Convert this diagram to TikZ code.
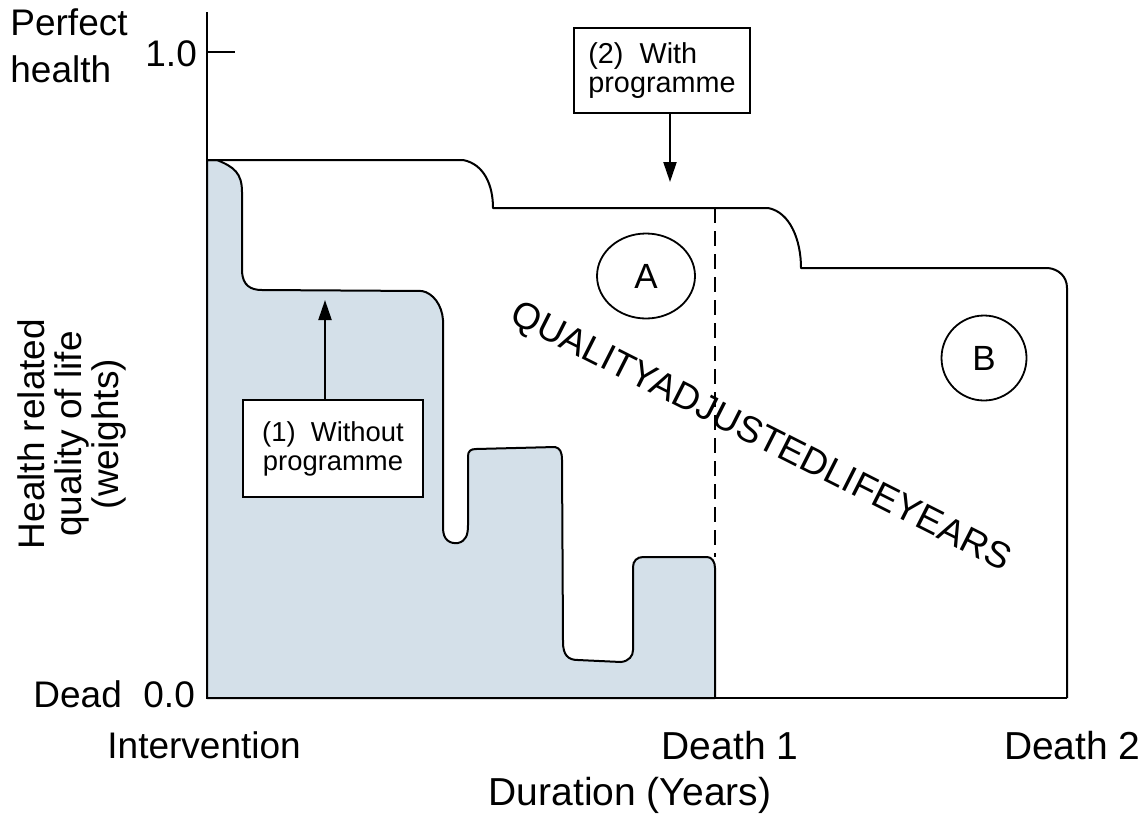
\documentclass[tikz,border=0pt]{standalone}
\usepackage{fontspec}
\setmainfont{Liberation Sans}
\usetikzlibrary{arrows.meta,shapes.geometric}
\definecolor{shade}{RGB}{212,224,233}
\tikzset{
  lbl/.style={inner sep=0pt, font=\fontsize{18.5}{21}\selectfont},
  biglbl/.style={inner sep=0pt, font=\fontsize{19.5}{22}\selectfont},
  boxtxt/.style={draw, line width=1pt, fill=white, inner sep=0pt, font=\fontsize{13.7}{14.5}\selectfont},
  circ/.style={draw, line width=0.9pt, inner sep=0pt, font=\fontsize{17.5}{20}\selectfont},
  curve/.style={line width=1pt, line join=round},
  arr/.style={line width=1.1pt, -{Triangle[length=10pt,width=6.5pt]}}
}
\begin{document}
\begin{tikzpicture}[x=0.5pt, y=-0.5pt]
\useasboundingbox (0,0) rectangle (1144,820);
% shaded area: without programme
\path[fill=shade, draw=black, curve]
  (207,698) -- (207,160) -- (217,160)
  .. controls (234,167) and (242,173) .. (242,192)
  -- (242,272) .. controls (243,285) and (250,290) .. (262,290)
  -- (422,291) .. controls (433,293) and (442,305) .. (443,320)
  -- (443,528) .. controls (443,540) and (450,544) .. (458,543)
  .. controls (466,541) and (468,535) .. (468,525)
  -- (468,456) .. controls (468,451) and (471,449) .. (476,449)
  -- (555,447) .. controls (560,448) and (562,452) .. (562,460)
  -- (563,642) .. controls (563,655) and (568,660) .. (578,660)
  -- (621,662) .. controls (629,661) and (633,656) .. (633,650)
  -- (633,567) .. controls (633,561) and (637,557) .. (643,557)
  -- (707,557) .. controls (712,557) and (715,562) .. (715,568)
  -- (715,698) -- cycle;
% with programme curve
\coordinate (w0) at (207,160);
\coordinate (wend) at (1067,698);
\draw[curve] (w0) -- (463,160) .. controls (484,164) and (493,185) .. (493,208)
  -- (768,208) .. controls (790,212) and (801,240) .. (801,268)
  -- (1048,268) .. controls (1058,269) and (1067,276) .. (1067,288) -- (wend);
% axes
\coordinate (ytop) at (207,12);
\coordinate (orig) at (207,698);
\coordinate (tick) at (235,52);
\draw[line width=1pt] (ytop) -- (orig) -- (wend);
\draw[line width=1pt] (207,52) -- (tick);
% dashed line at death 1
\coordinate (d1top) at (715,208);
\coordinate (d1bot) at (715,557);
\draw[line width=0.9pt, dash pattern=on 7.5pt off 4pt] (d1top) -- (d1bot);
% boxes and arrows
\node[boxtxt, minimum width=90pt, minimum height=48.5pt, align=center] (box1) at (333,448.5) {(1)~~Without\\programme};
\coordinate (a1) at (325,300);
\draw[arr] (box1.north -| a1) -- (a1);
\node[boxtxt, minimum width=88pt, minimum height=42.5pt, align=left, font=\fontsize{14.4}{14.5}\selectfont] (box2) at (662,70.5) {(2)~~With\\programme};
\coordinate (a2) at (670,182);
\draw[arr] (box2.south -| a2) -- (a2);
% circles
\node[circ, ellipse, minimum width=49pt, minimum height=42.5pt] (A) at (646,276) {A};
\node[circ, circle, minimum size=42.5pt] (B) at (984,358) {B};
% QALY text
\node[lbl, rotate=-26.8] (qaly) at (760,438) {QUALITYADJUSTEDLIFEYEARS};
% labels
\node[lbl, anchor=base west] (perf) at (10,35) {Perfect};
\node[lbl, anchor=base west] (hlth) at (10,82) {health};
\node[lbl, anchor=base west] (one) at (145,66) {1.0};
\node[lbl, anchor=base west] (dead) at (33,707) {Dead};
\node[lbl, anchor=base west] (zero) at (143,707) {0.0};
\node[lbl, anchor=base west] (interv) at (107,758) {Intervention};
\node[biglbl, anchor=base] (death1) at (730,759) {Death 1};
\node[biglbl, anchor=base east] (death2) at (1141,759) {Death 2};
\node[biglbl, anchor=base] (dur) at (630,805) {Duration (Years)};
\node[lbl, rotate=90, align=center, font=\fontsize{18.5}{18.5}\selectfont] (ylab) at (72,434) {Health related\\quality of life\\(weights)};
\end{tikzpicture}
\end{document}
